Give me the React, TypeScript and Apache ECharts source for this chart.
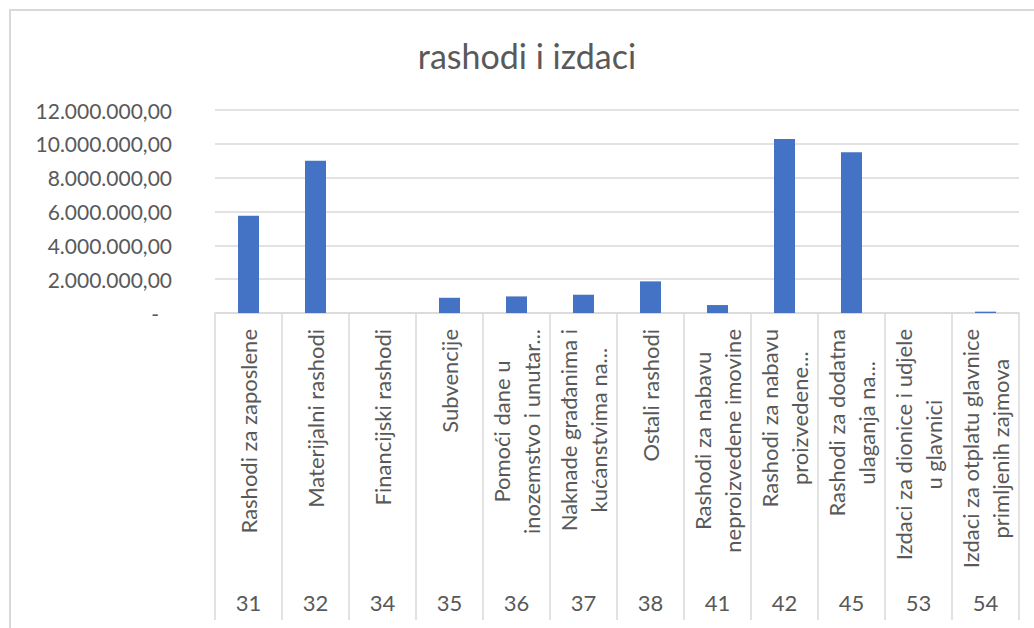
import React, { useEffect, useRef } from "react";
import * as echarts from "echarts";

const codes = ["31", "32", "34", "35", "36", "37", "38", "41", "42", "45", "53", "54"];
const names = [
  "Rashodi za zaposlene",
  "Materijalni rashodi",
  "Financijski rashodi",
  "Subvencije",
  "Pomoći dane u\ninozemstvo i unutar...",
  "Naknade građanima i\nkućanstvima na...",
  "Ostali rashodi",
  "Rashodi za nabavu\nneproizvedene imovine",
  "Rashodi za nabavu\nproizvedene...",
  "Rashodi za dodatna\nulaganja na...",
  "Izdaci za dionice i udjele\nu glavnici",
  "Izdaci za otplatu glavnice\nprimljenih zajmova",
];
const values = [5750000, 9000000, 0, 900000, 980000, 1080000, 1870000, 470000, 10280000, 9500000, 0, 80000];
const yTicks = [0, 2000000, 4000000, 6000000, 8000000, 10000000, 12000000];

const FONT = "Lato";
const GRAY = "#595959";
const LINE = "#d9d9d9";

function fmt(v: number): string {
  if (v === 0) return "{z|-}";
  const s = Math.round(v).toString().replace(/\B(?=(\d{3})+(?!\d))/g, ".");
  return s + ",00";
}

export default function App() {
  const ref = useRef<HTMLDivElement>(null);
  useEffect(() => {
    document.body.style.margin = "0";
    const chart = echarts.init(ref.current!, null, { renderer: "svg" });
    chart.setOption({
      animation: false,
      backgroundColor: "#ffffff",
      title: {
        text: "rashodi i izdaci",
        left: 522,
        top: 33,
        textAlign: "center",
        textStyle: { fontFamily: FONT, fontSize: 34, fontWeight: "normal", color: GRAY },
      },
      graphic: [
        {
          type: "rect",
          shape: { x: 10, y: 10, width: 1100, height: 700 },
          style: { fill: "none", stroke: LINE, lineWidth: 2 },
          silent: true,
        },
      ],
      grid: { left: 215, right: 15, top: 110, bottom: 315 },
      xAxis: [
        {
          type: "category",
          data: names,
          position: "bottom",
          axisLine: { show: true, lineStyle: { color: LINE, width: 1.5 } },
          axisTick: { show: true, length: 307, lineStyle: { color: LINE, width: 1.5 } },
          axisLabel: {
            interval: 0,
            rotate: 90,
            margin: 16,
            fontFamily: FONT,
            fontSize: 22,
            color: GRAY,
            lineHeight: 30,
            formatter: (v: string) =>
              v
                .split("\n")
                .map((l) => "{c|" + l + "}")
                .join("\n"),
            rich: {
              c: { align: "center", fontFamily: FONT, fontSize: 22, color: GRAY, lineHeight: 30 },
            },
          },
        },
        {
          type: "category",
          data: codes,
          position: "bottom",
          axisLine: { show: false },
          axisTick: { show: false },
          axisLabel: {
            interval: 0,
            margin: 278,
            fontFamily: FONT,
            fontSize: 22,
            color: GRAY,
          },
        },
      ],
      yAxis: {
        type: "value",
        min: yTicks[0],
        max: yTicks[yTicks.length - 1],
        interval: 2000000,
        axisLine: { show: false },
        axisTick: { show: false },
        splitLine: { show: true, lineStyle: { color: LINE, width: 1.5 } },
        axisLabel: {
          margin: 43,
          fontFamily: FONT,
          fontSize: 21,
          color: GRAY,
          formatter: fmt,
          rich: { z: { padding: [0, 13, 0, 0], fontFamily: FONT, fontSize: 21, color: GRAY } },
        },
      },
      series: [
        {
          type: "bar",
          data: values,
          barWidth: 21,
          itemStyle: { color: "#4472c4" },
        },
      ],
    });
    return () => chart.dispose();
  }, []);
  return <div ref={ref} style={{ width: 1034, height: 628 }} />;
}
